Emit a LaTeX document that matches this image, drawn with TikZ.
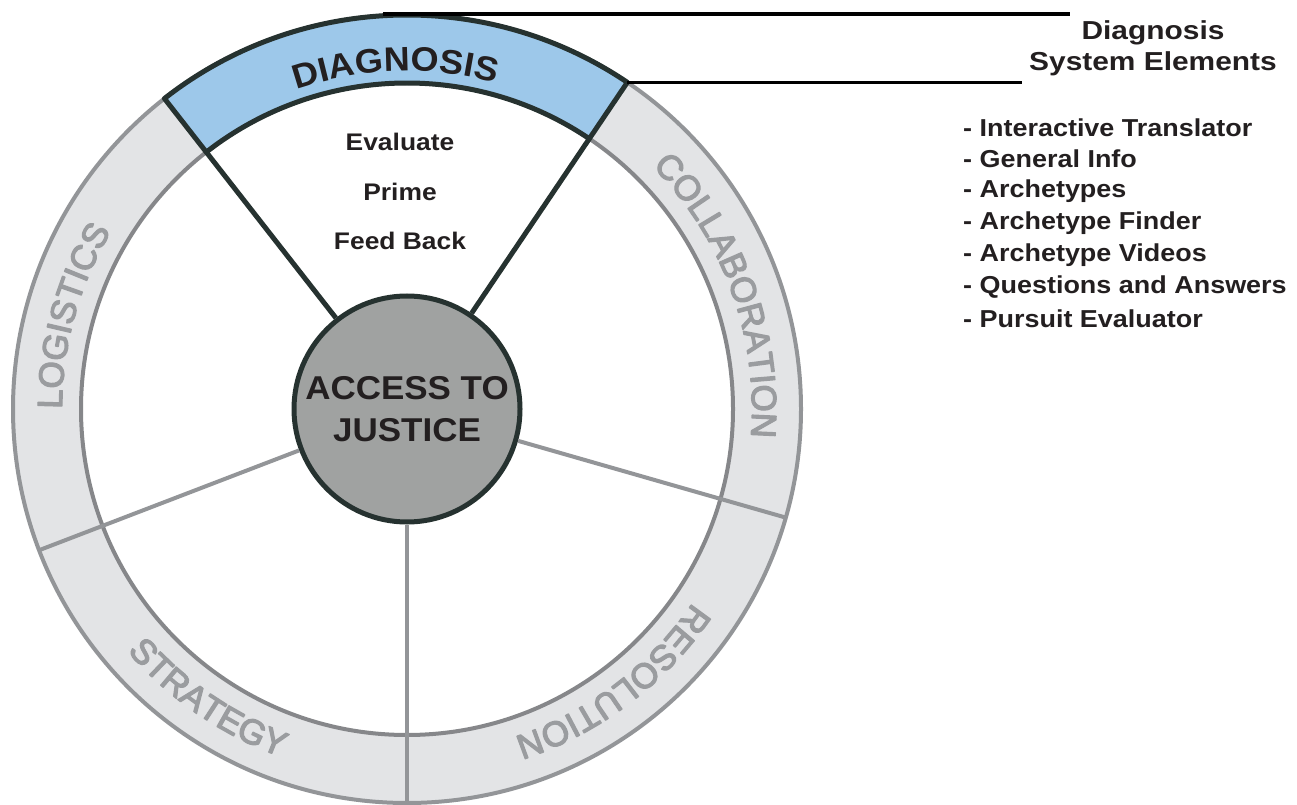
\documentclass[tikz,border=0pt]{standalone}
\usepackage{fontspec}
\setmainfont{Liberation Sans}
\newfontfamily\wideten[FakeStretch=1.1]{Liberation Sans}
\newfontfamily\widefift[FakeStretch=1.15]{Liberation Sans}
\newfontfamily\widefive[FakeStretch=1.06]{Liberation Sans}
\newfontfamily\grayfam[UprightFeatures={FakeBold=3.5}]{Liberation Sans}
\usetikzlibrary{decorations.text,calc}
\definecolor{ringfill}{HTML}{E3E4E6}
\definecolor{ringline}{HTML}{939598}
\definecolor{ringinner}{HTML}{86878A}
\definecolor{darkline}{HTML}{263230}
\definecolor{diagblue}{HTML}{9DC8EA}
\definecolor{hubfill}{HTML}{A0A2A1}
\definecolor{labgray}{HTML}{9A9C9F}
\definecolor{ink}{HTML}{231F20}
\newcommand\diagfont{\widefive\fontsize{34}{36}\selectfont\bfseries\color{ink}}
\newcommand\labfont{\grayfam\fontsize{35}{38}\selectfont\color{labgray}}
\tikzset{
  ringedge/.style={draw=ringline, line width=4},
  grayspoke/.style={draw=ringline, line width=4},
  darkedge/.style={draw=darkline, line width=5},
  hubnode/.style={circle, minimum size=226, inner sep=0, fill=hubfill, draw=darkline, line width=5,
    align=center, font=\widefive\fontsize{33}{42}\selectfont\bfseries, text=ink},
  innertext/.style={font=\wideten\fontsize{24}{26}\selectfont\bfseries, text=ink},
  listtext/.style={font=\wideten\fontsize{24.5}{26}\selectfont\bfseries, text=ink, anchor=west, inner sep=0},
  headtext/.style={font=\widefift\fontsize{26}{28}\selectfont\bfseries, text=ink, inner sep=0},
  leader/.style={draw=black, line width=3.2},
}
\begin{document}
\begin{tikzpicture}[x=1pt,y=1pt,line join=round]
\useasboundingbox (0,0) rectangle (1297,804);
\coordinate (c) at (407,395);
\def\Ro{394}
\def\Ri{326}
% ring
\fill[ringfill, even odd rule] (c) circle[radius=\Ro] (c) circle[radius=\Ri];
\draw[ringedge] (c) circle[radius=\Ro];
\draw[ringedge, draw=ringinner] (c) circle[radius=\Ri];
% diagnosis sector
\coordinate (o56) at ($(c)+(56:\Ro)$);
\coordinate (o128) at ($(c)+(128:\Ro)$);
\coordinate (i56) at ($(c)+(56:\Ri)$);
\coordinate (i128) at ($(c)+(128:\Ri)$);
\draw[darkedge, fill=diagblue] (o56) arc[start angle=56,end angle=128,radius=\Ro] -- (i128)
  arc[start angle=128,end angle=56,radius=\Ri] -- cycle;
% hub
\node[hubnode] (hub) at (c) {ACCESS TO\\JUSTICE};
% spokes
\foreach \a in {201,270,344}{
  \coordinate (o\a) at ($(c)+(\a:\Ro)$);
  \draw[grayspoke] (hub.\a) -- (o\a);
}
\draw[darkedge] (hub.56) -- (i56);
\draw[darkedge] (hub.128) -- (i128);
% curved labels
\path[decorate, decoration={text along path, text align=center, text={|\diagfont|DIAGNOSIS}}]
  ($(c)+(128:338)$) arc[start angle=128,end angle=56,radius=338];
\path[decorate, decoration={text along path, text align=center, text={|\labfont|LOGISTICS}}]
  ($(c)+(201:345)$) arc[start angle=201,end angle=128,radius=345];
\path[decorate, decoration={text along path, text align=center, text={|\labfont|COLLABORATION}}]
  ($(c)+(56:345)$) arc[start angle=56,end angle=-16,radius=345];
\path[decorate, decoration={text along path, text align=center, text={|\labfont|RESOLUTION}}]
  ($(c)+(-16:345)$) arc[start angle=-16,end angle=-90,radius=345];
\path[decorate, decoration={text along path, text align=center, text={|\labfont|STRATEGY}}]
  ($(c)+(201:370)$) arc[start angle=201,end angle=270,radius=370];
% inner texts
\node[innertext] (evaluate) at (400,662) {Evaluate};
\node[innertext] (prime) at (400,612) {Prime};
\node[innertext] (feedback) at (400,563) {Feed Back};
% leaders
\coordinate (topL) at (383,790);
\coordinate (topR) at (1070,790);
\coordinate (midR) at (1022,722);
\draw[leader] (topL) -- (topR);
\draw[leader] (o56) -- (o56 -| midR);
% header
\node[headtext] (head1) at (1153,771) {Diagnosis};
\node[headtext] (head2) at (1153,740) {System Elements};
% list
\node[listtext] (l1) at (963,676) {- Interactive Translator};
\node[listtext] (l2) at (963,645) {- General Info};
\node[listtext] (l3) at (963,613) {- Archetypes};
\node[listtext] (l4) at (963,581) {- Archetype Finder};
\node[listtext] (l5) at (963,549) {- Archetype Videos};
\node[listtext] (l6) at (963,517) {- Questions and Answers};
\node[listtext] (l7) at (963,485) {- Pursuit Evaluator};
\end{tikzpicture}
\end{document}
